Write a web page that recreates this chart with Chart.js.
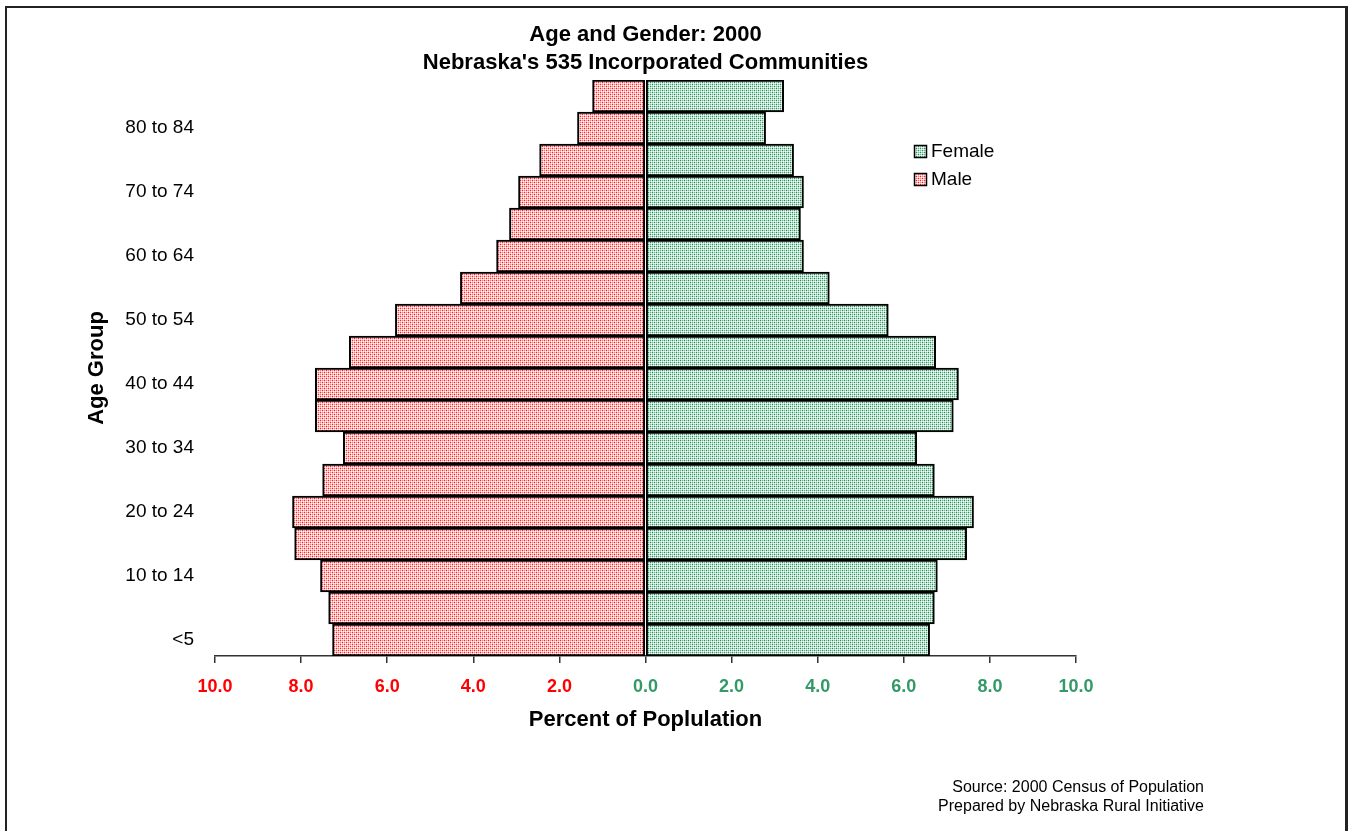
<!DOCTYPE html>
<html>
<head>
<meta charset="utf-8">
<script src="https://cdn.jsdelivr.net/npm/chart.js@4.4.1/dist/chart.umd.min.js"></script>
<style>
  html, body { margin: 0; padding: 0; background: #fff; }
  #wrap { position: relative; width: 1351px; height: 831px; }
  canvas { display: block; }
</style>
</head>
<body>
<div id="wrap"><canvas id="pyramid" width="1351" height="831"></canvas></div>
<script>
// Age groups, youngest first
const ageGroups = ['<5', '5 to 9', '10 to 14', '15 to 19', '20 to 24', '25 to 29', '30 to 34',
  '35 to 39', '40 to 44', '45 to 49', '50 to 54', '55 to 59', '60 to 64', '65 to 69',
  '70 to 74', '75 to 79', '80 to 84', '85+'];

// Percent of population by age group
const malePct = [7.27, 7.36, 7.55, 8.15, 8.20, 7.50, 7.02, 7.67, 7.67, 6.88, 5.81, 4.30,
  3.46, 3.16, 2.95, 2.46, 1.58, 1.23];
const femalePct = [6.60, 6.71, 6.78, 7.46, 7.62, 6.71, 6.30, 7.15, 7.27, 6.74, 5.64, 4.27,
  3.67, 3.60, 3.67, 3.44, 2.79, 3.21];

const xTicks = [-10, -8, -6, -4, -2, 0, 2, 4, 6, 8, 10];

const titleLines = ['Age and Gender: 2000', "Nebraska's 535 Incorporated Communities"];
const sourceLines = ['Source: 2000 Census of Population', 'Prepared by Nebraska Rural Initiative'];

const RED = '#ff0000';
const GREEN = '#339966';
const FONT = '"Liberation Sans", Arial, sans-serif';

// Small dotted tile used as the bar fill
function dotPattern(dark, mid, light) {
  const c = document.createElement('canvas');
  c.width = 4; c.height = 4;
  const g = c.getContext('2d');
  const grid = [
    ['D', 'L', 'M', 'L'],
    ['L', 'W', 'L', 'W'],
    ['M', 'L', 'D', 'L'],
    ['L', 'W', 'L', 'W']
  ];
  const col = { D: dark, M: mid, L: light, W: '#ffffff' };
  for (let y = 0; y < 4; y++) {
    for (let x = 0; x < 4; x++) {
      g.fillStyle = col[grid[y][x]];
      g.fillRect(x, y, 1, 1);
    }
  }
  return document.getElementById('pyramid').getContext('2d').createPattern(c, 'repeat');
}

const maleFill = dotPattern('#ff1e1e', '#ff7a7a', '#ffbcbc');
const femaleFill = dotPattern('#22905a', '#68bc8e', '#bae2cc');

// Title, frame, legend and source note
const extras = {
  id: 'extras',
  afterDraw(chart) {
    const ctx = chart.ctx;
    const cx = chart.scales.x.getPixelForValue(0);
    ctx.save();

    // page frame
    ctx.strokeStyle = '#222';
    ctx.lineWidth = 2;
    ctx.beginPath();
    ctx.moveTo(6, 831); ctx.lineTo(6, 7); ctx.lineTo(1346, 7);
    ctx.stroke();
    ctx.lineWidth = 3;
    ctx.beginPath();
    ctx.moveTo(1346.5, 6); ctx.lineTo(1346.5, 831);
    ctx.stroke();

    // title
    ctx.fillStyle = '#000';
    ctx.textAlign = 'center';
    ctx.textBaseline = 'middle';
    ctx.font = 'bold 22px ' + FONT;
    ctx.fillText(titleLines[0], cx, 35);
    ctx.fillText(titleLines[1], cx, 63);

    // legend
    const items = [
      { label: 'Female', fill: femaleFill },
      { label: 'Male', fill: maleFill }
    ];
    ctx.font = '19px ' + FONT;
    ctx.textAlign = 'left';
    items.forEach((it, i) => {
      const y = 151 + i * 28;
      ctx.fillStyle = it.fill;
      ctx.fillRect(914, y - 6, 13, 13);
      ctx.strokeStyle = '#000';
      ctx.lineWidth = 1.5;
      ctx.strokeRect(914.5, y - 5.5, 12, 12);
      ctx.fillStyle = '#000';
      ctx.fillText(it.label, 931, y + 1);
    });

    // source note
    ctx.font = '16px ' + FONT;
    ctx.textAlign = 'right';
    ctx.fillText(sourceLines[0], 1204, 788);
    ctx.fillText(sourceLines[1], 1204, 807);
    ctx.restore();
  }
};

new Chart(document.getElementById('pyramid'), {
  type: 'bar',
  data: {
    labels: ageGroups,
    datasets: [
      {
        label: 'Male',
        data: malePct.map(v => -v),
        backgroundColor: maleFill,
        borderColor: '#000',
        borderWidth: 2,
        borderSkipped: false
      },
      {
        label: 'Female',
        data: femalePct,
        backgroundColor: femaleFill,
        borderColor: '#000',
        borderWidth: 2,
        borderSkipped: false
      }
    ]
  },
  options: {
    indexAxis: 'y',
    responsive: false,
    animation: false,
    layout: { padding: { top: 80, left: 0, right: 275, bottom: 75 } },
    datasets: { bar: { barPercentage: 1, categoryPercentage: 1 } },
    plugins: {
      legend: { display: false },
      tooltip: { enabled: false },
      title: { display: false }
    },
    scales: {
      x: {
        type: 'linear',
        stacked: true,
        min: -10,
        max: 10,
        afterBuildTicks(scale) { scale.ticks = xTicks.map(v => ({ value: v })); },
        afterFit(scale) { scale.height = 100; },
        grid: { display: true, drawOnChartArea: false, drawTicks: true, tickLength: 7, color: '#333', lineWidth: 1.5 },
        border: { display: true, color: '#333', width: 1.5 },
        ticks: {
          padding: 13,
          font: { family: FONT, size: 18, weight: 'bold' },
          color: ctx => (ctx.tick && ctx.tick.value < 0 ? RED : GREEN),
          callback: v => Math.abs(v).toFixed(1)
        },
        title: {
          display: true,
          text: 'Percent of Poplulation',
          color: '#000',
          font: { family: FONT, size: 22, weight: 'bold' },
          padding: { top: 0, bottom: 23 }
        }
      },
      y: {
        type: 'category',
        stacked: true,
        reverse: true,
        afterFit(scale) { scale.width = 215; },
        grid: { display: false },
        border: { display: false },
        ticks: {
          padding: 13,
          autoSkip: false,
          color: '#000',
          font: { family: FONT, size: 19 },
          callback: (v, i) => (i % 2 === 0 ? ageGroups[i] : '')
        },
        title: {
          display: true,
          text: 'Age Group',
          color: '#000',
          font: { family: FONT, size: 22, weight: 'bold' },
          padding: { top: 84, bottom: 0 }
        }
      }
    }
  },
  plugins: [extras]
});
</script>
</body>
</html>
